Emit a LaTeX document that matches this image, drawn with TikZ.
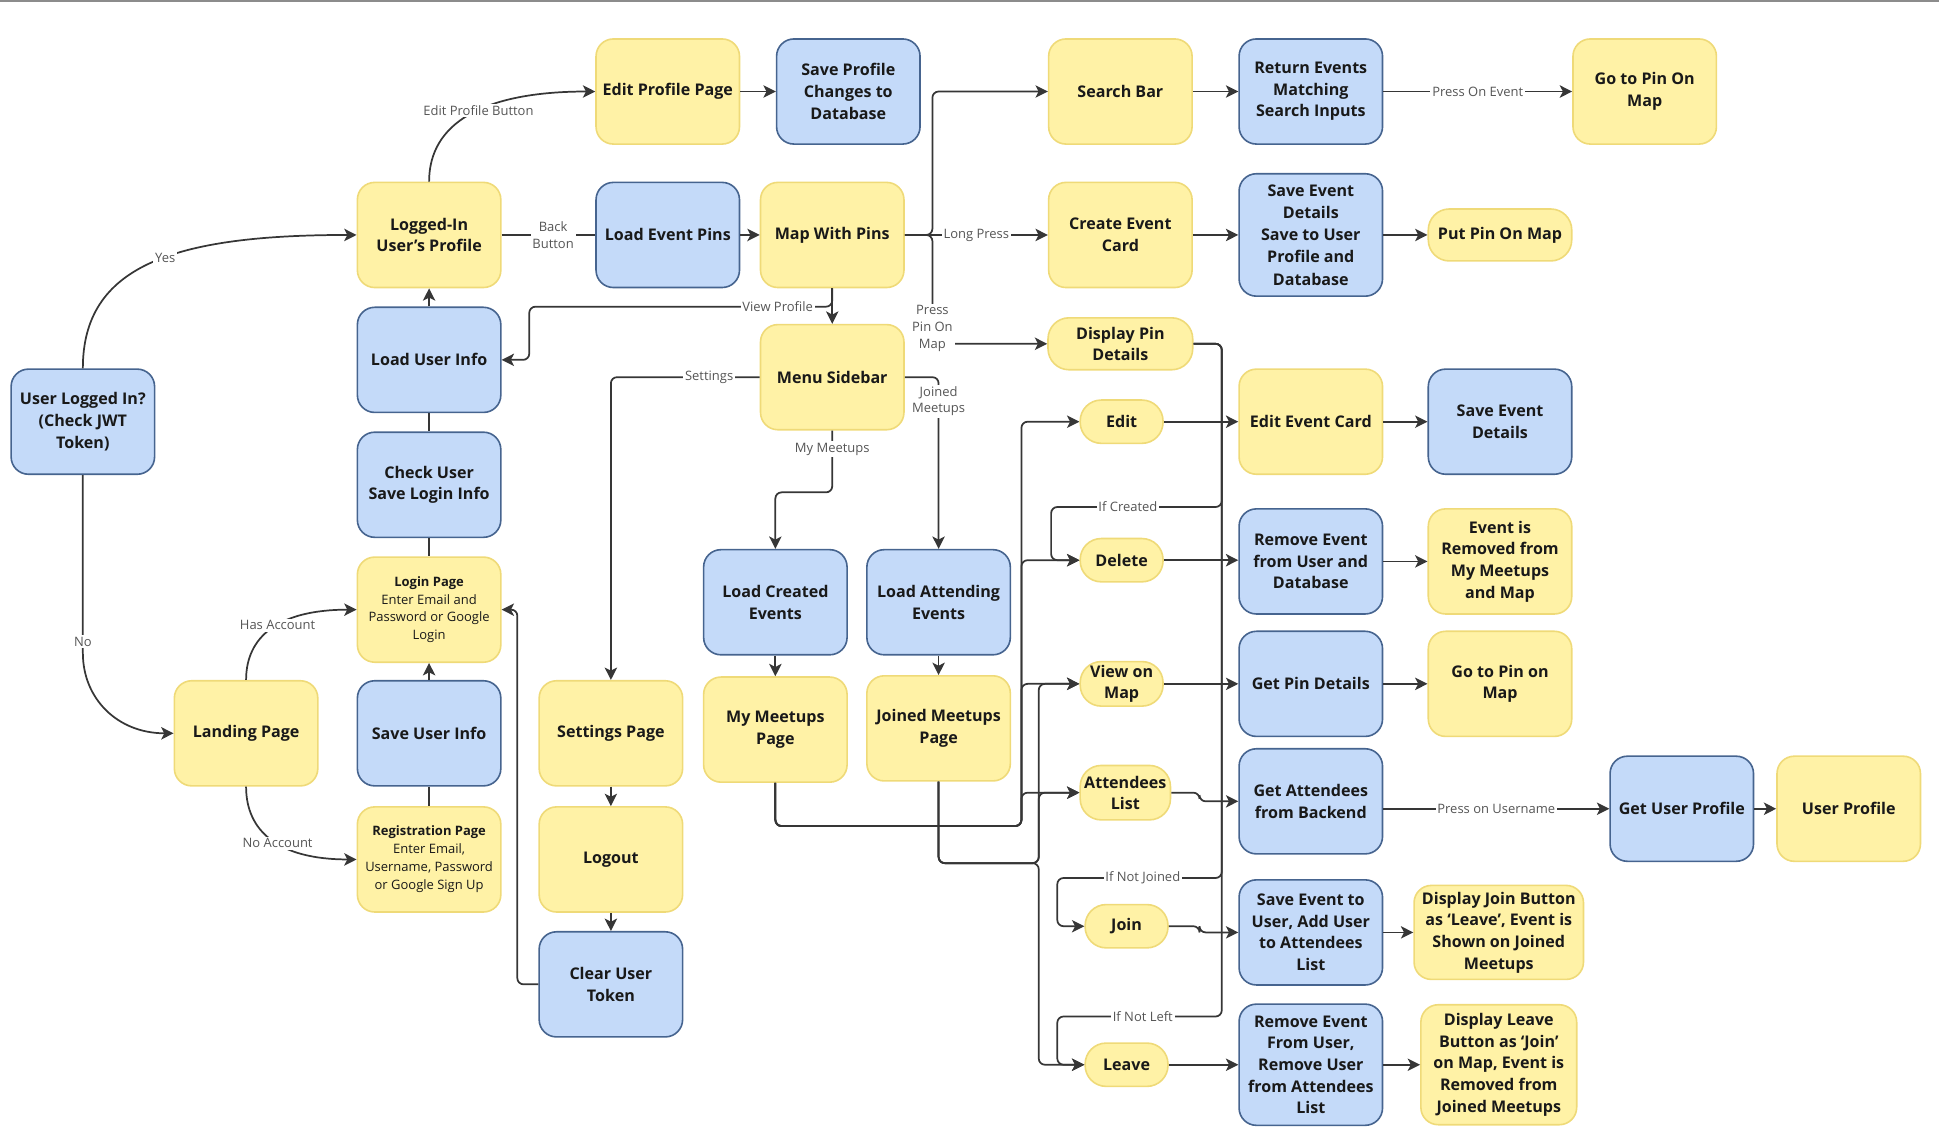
\documentclass[tikz,border=0pt]{standalone}
\usepackage{fontspec}
\setmainfont{Open Sans}
\usetikzlibrary{arrows.meta}

\definecolor{yfill}{HTML}{FFF2A6}
\definecolor{yline}{HTML}{EFDA78}
\definecolor{bfill}{HTML}{C4DAF9}
\definecolor{bline}{HTML}{46648F}
\definecolor{wirecol}{HTML}{363636}
\definecolor{lbltext}{HTML}{555555}

\tikzset{
  box/.style={rectangle, rounded corners=14pt, minimum width=116pt, minimum height=85pt,
    align=center, inner sep=2pt, line width=1.3pt, text=black!90,
    font=\bfseries\fontsize{13}{17.5}\selectfont},
  ybox/.style={box, fill=yfill, draw=yline},
  bbox/.style={box, fill=bfill, draw=bline},
  ypill/.style={ybox, rounded corners=17pt, minimum width=67pt, minimum height=35pt,
    font=\bfseries\fontsize{13}{17}\selectfont},
  wire/.style={draw=wirecol, line width=1.4pt, rounded corners=5pt},
  arr/.style={wire, -{Stealth[length=10pt,width=10pt,inset=2.5pt]}},
  lbl/.style={fill=white, text=lbltext, inner sep=1.5pt, align=center, sharp corners,
    font=\fontsize{10.5}{13.5}\selectfont},
}

\begin{document}
\begin{tikzpicture}[x=1pt, y=-1pt]
\useasboundingbox (0,0) rectangle (1568,918);
\fill[black!45] (0,0) rectangle (1568,1.8);

% login side
\node[bbox] (userLogged) at (67,341) {User Logged In?\\(Check JWT\\Token)};
\node[ybox] (profile) at (347,190) {Logged-In\\User's Profile};
\node[bbox] (loadUser) at (347,291) {Load User Info};
\node[bbox] (checkUser) at (347,392) {Check User\\Save Login Info};
\node[ybox, font=\fontsize{10.5}{14.5}\selectfont] (login) at (347,493)
  {\textbf{Login Page}\\Enter Email and\\Password or Google\\Login};
\node[ybox] (landing) at (199,593) {Landing Page};
\node[bbox] (saveUser) at (347,593) {Save User Info};
\node[ybox, font=\fontsize{10.5}{14.5}\selectfont] (registration) at (347,695)
  {\textbf{Registration Page}\\Enter Email,\\Username, Password\\or Google Sign Up};

% profile and map
\node[ybox] (editProfile) at (540,74) {Edit Profile Page};
\node[bbox] (saveProfile) at (686,74) {Save Profile\\Changes to\\Database};
\node[bbox] (loadPins) at (540,190) {Load Event Pins};
\node[ybox] (mapPins) at (673,190) {Map With Pins};
\node[ybox] (menu) at (673,305) {Menu Sidebar};

% menu pages
\node[ybox] (settings) at (494,593) {Settings Page};
\node[ybox] (logout) at (494,695) {Logout};
\node[bbox] (clearToken) at (494,796) {Clear User\\Token};
\node[bbox] (loadCreated) at (627,487) {Load Created\\Events};
\node[bbox] (loadAttending) at (759,487) {Load Attending\\Events};
\node[ybox] (myMeetups) at (627,590) {My Meetups\\Page};
\node[ybox] (joinedMeetups) at (759,589) {Joined Meetups\\Page};

% search and create
\node[ybox] (searchBar) at (906,74) {Search Bar};
\node[bbox] (returnEvents) at (1060,74) {Return Events\\Matching\\Search Inputs};
\node[ybox] (goPin) at (1330,74) {Go to Pin On\\Map};
\node[ybox] (createCard) at (906,190) {Create Event\\Card};
\node[bbox, minimum height=99pt, font=\bfseries\fontsize{13}{18}\selectfont] (saveEvent) at (1060,190)
  {Save Event\\Details\\Save to User\\Profile and\\Database};
\node[ypill, minimum width=116pt, minimum height=42pt] (putPin) at (1213,190) {Put Pin On Map};
\node[ypill, minimum width=117pt, minimum height=42pt] (displayPin) at (906,278) {Display Pin\\Details};

% event actions
\node[ypill] (edit) at (907,341) {Edit};
\node[ybox] (editCard) at (1060,341) {Edit Event Card};
\node[bbox] (saveEventDetails) at (1213,341) {Save Event\\Details};
\node[ypill] (delete) at (907,453) {Delete};
\node[bbox] (removeEvent) at (1060,454) {Remove Event\\from User and\\Database};
\node[ybox] (eventRemoved) at (1213,454) {Event is\\Removed from\\My Meetups\\and Map};
\node[ypill, minimum height=36pt] (viewMap) at (907,553) {View on\\Map};
\node[bbox] (getPin) at (1060,553) {Get Pin Details};
\node[ybox] (goPinMap) at (1213,553) {Go to Pin on\\Map};
\node[ypill, minimum width=73pt, minimum height=44pt] (attendees) at (910,641) {Attendees\\List};
\node[bbox] (getAttendees) at (1060,648) {Get Attendees\\from Backend};
\node[bbox] (getUser) at (1360,654) {Get User Profile};
\node[ybox] (userProfile) at (1495,654) {User Profile};
\node[ypill] (join) at (911,749) {Join};
\node[bbox] (saveToUser) at (1060,754) {Save Event to\\User, Add User\\to Attendees\\List};
\node[ybox, minimum width=137pt, minimum height=76pt] (displayJoin) at (1212,754)
  {Display Join Button\\as ‘Leave’, Event is\\Shown on Joined\\Meetups};
\node[ypill] (leave) at (911,861) {Leave};
\node[bbox, minimum height=98pt] (removeFromUser) at (1060,861)
  {Remove Event\\From User,\\Remove User\\from Attendees\\List};
\node[ybox, minimum width=126pt, minimum height=97pt] (displayLeave) at (1212,861)
  {Display Leave\\Button as ‘Join’\\on Map, Event is\\Removed from\\Joined Meetups};

% curved links
\draw[arr] (userLogged.north) .. controls (67,215) and (140,190) .. (profile.west)
  node[lbl,pos=0.55] {Yes};
\draw[arr] (userLogged.south) -- (67,523) node[lbl,pos=0.97] {No}
  .. controls (67,565) and (95,593) .. (landing.west);
\draw[arr] (profile.north) .. controls (347,100) and (390,74) .. (editProfile.west)
  node[lbl,pos=0.55] {Edit Profile Button};
\draw[arr] (landing.north) .. controls (199,515) and (225,493) .. (login.west)
  node[lbl,pos=0.55] {Has Account};
\draw[arr] (landing.south) .. controls (199,672) and (225,695) .. (registration.west)
  node[lbl,pos=0.55] {No Account};

% login column
\draw[arr] (loadUser) -- (profile);
\draw[wire] (loadUser) -- (checkUser);
\draw[wire] (checkUser) -- (login);
\draw[arr] (saveUser) -- (login);
\draw[wire] (saveUser) -- (registration);
\draw[arr] (clearToken.west) -- ++(-17,0) |- (login.east);

% map links
\draw[wire] (profile) -- node[lbl,pos=0.55] {Back\\Button} (loadPins);
\draw[arr] (loadPins) -- (mapPins);
\draw[arr] (editProfile) -- (saveProfile);
\draw[arr] (mapPins.east) -- (754,190) |- (searchBar.west);
\draw[arr] (mapPins) -- node[lbl] {Long Press} (createCard);
\draw[arr] (mapPins.east) -- (754,190) |- node[lbl,pos=0.43] {Press\\Pin On\\Map} (displayPin.west);
\draw[arr] (mapPins) -- (menu);
\draw[arr] (mapPins.south) |- (428,248) node[lbl,pos=0.59] {View Profile} |- (loadUser.east);
\draw[arr] (menu.west) -| node[lbl,pos=0.17] {Settings} (settings.north);
\draw[arr] (menu.south) -- node[lbl,pos=0.3] {My Meetups} ++(0,50) -| (loadCreated.north);
\draw[arr] (menu.east) -| node[lbl,pos=0.57] {Joined\\Meetups} (loadAttending.north);
\draw[arr] (loadCreated) -- (myMeetups);
\draw[arr] (loadAttending) -- (joinedMeetups);
\draw[arr] (settings) -- (logout);
\draw[arr] (logout) -- (clearToken);

% search and create
\draw[arr] (searchBar) -- (returnEvents);
\draw[arr] (returnEvents) -- node[lbl] {Press On Event} (goPin);
\draw[arr] (createCard) -- (saveEvent);
\draw[arr] (saveEvent) -- (putPin);

% pin details bus
\draw[arr] (displayPin.east) -| (988,410) -- node[lbl,pos=0.55] {If Created} (850,410) |- (delete.west);
\draw[arr] (displayPin.east) -| (988,710) -- node[lbl,pos=0.48] {If Not Joined} (855,710) |- (join.west);
\draw[arr] (displayPin.east) -| (988,822) -- node[lbl,pos=0.48] {If Not Left} (855,822) |- (leave.west);

% meetups pages buses
\foreach \t in {edit,delete,viewMap,attendees}
  \draw[arr] (myMeetups.south) |- (826,668) |- (\t.west);
\foreach \t in {viewMap,attendees,leave}
  \draw[arr] (joinedMeetups.south) |- (840,698) |- (\t.west);

% event actions
\draw[arr] (edit) -- (editCard);
\draw[arr] (editCard) -- (saveEventDetails);
\draw[arr] (delete) -- (removeEvent.west |- delete);
\draw[arr] (removeEvent) -- (eventRemoved);
\draw[arr] (viewMap) -- (getPin);
\draw[arr] (getPin) -- (goPinMap);
\draw[arr] (attendees.east) -| (970,648) -- (getAttendees.west);
\draw[arr] (getAttendees.east |- getUser) -- node[lbl] {Press on Username} (getUser);
\draw[arr] (getUser) -- (userProfile);
\draw[arr] (join.east) -| (970,754) -- (saveToUser.west);
\draw[arr] (saveToUser) -- (displayJoin);
\draw[arr] (leave) -- (removeFromUser);
\draw[arr] (removeFromUser) -- (displayLeave);
\end{tikzpicture}
\end{document}
